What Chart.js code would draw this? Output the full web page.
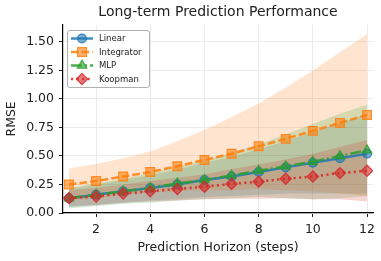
<!DOCTYPE html>
<html><head><meta charset="utf-8">
<script src="https://cdn.jsdelivr.net/npm/chart.js@4/dist/chart.umd.min.js"></script>
<style>html,body{margin:0;padding:0;background:#fff;}#wrap{width:381px;height:261px;}</style>
</head><body><div id="wrap"><canvas id="c" width="381" height="261"></canvas></div>
<script>
// ---- data ----
const steps = [1,2,3,4,5,6,7,8,9,10,11,12];
const linearMean = [0.13,0.16,0.19,0.22,0.25,0.29,0.32,0.36,0.40,0.44,0.48,0.52];
const linearStd  = [0.08,0.09,0.10,0.11,0.13,0.15,0.17,0.20,0.23,0.27,0.31,0.35];
const integratorMean = [0.25,0.28,0.32,0.36,0.41,0.465,0.52,0.585,0.65,0.72,0.79,0.86];
const integratorStd  = [0.14,0.15,0.16,0.18,0.22,0.265,0.32,0.375,0.45,0.53,0.62,0.71];
const mlpMean = [0.13,0.16,0.19,0.22,0.26,0.29,0.33,0.37,0.41,0.45,0.50,0.55];
const mlpStd  = [0.09,0.10,0.11,0.13,0.15,0.17,0.20,0.23,0.28,0.33,0.37,0.40];
const koopmanMean = [0.13,0.145,0.17,0.19,0.21,0.23,0.255,0.275,0.30,0.32,0.35,0.37];
const koopmanStd  = [0.07,0.075,0.08,0.09,0.10,0.11,0.13,0.15,0.17,0.20,0.23,0.27];
const xTicks = [2,4,6,8,10,12];
const yTicks = [0,0.25,0.5,0.75,1.0,1.25,1.5];
const seriesNames = ['Linear','Integrator','MLP','Koopman'];

// ---- styles ----
const FONT = "'DejaVu Sans', sans-serif";
const rgb = {Linear:[31,119,180], Integrator:[255,127,14], MLP:[44,160,44], Koopman:[214,39,40]};
const rgba = (n,a)=>`rgba(${rgb[n][0]},${rgb[n][1]},${rgb[n][2]},${a})`;
const styles = {
  Linear:{dash:[], point:'circle', r:4.4},
  Integrator:{dash:[7.5,3.2], point:'rect', r:6.2},
  MLP:{dash:[11,3,2,3], point:'triangle', r:5.4},
  Koopman:{dash:[2.2,3.3], point:'rectRot', r:5.6}
};
const means = {Linear:linearMean, Integrator:integratorMean, MLP:mlpMean, Koopman:koopmanMean};
const stds = {Linear:linearStd, Integrator:integratorStd, MLP:mlpStd, Koopman:koopmanStd};

const pts = arr => steps.map((s,i)=>({x:s, y:arr[i]}));
const datasets = [];
[...seriesNames].reverse().forEach(n=>{
  datasets.push({
    label:n, data:pts(means[n]),
    borderColor:rgba(n,0.85), backgroundColor:rgba(n,0.6),
    borderWidth:2.5, borderDash:styles[n].dash,
    pointStyle:styles[n].point, pointRadius:styles[n].r,
    pointBorderColor:rgba(n,0.85), pointBackgroundColor:rgba(n,0.6), pointBorderWidth:1.2,
    fill:false, tension:0
  });
});
[...seriesNames].reverse().forEach(n=>{
  const up = means[n].map((m,i)=>m+stds[n][i]);
  const lo = means[n].map((m,i)=>m-stds[n][i]);
  datasets.push({label:n+' band', data:pts(up), borderWidth:0, pointRadius:0,
    backgroundColor:rgba(n,0.2), borderColor:'rgba(0,0,0,0)', fill:'+1', tension:0});
  datasets.push({label:n+' band lo', data:pts(lo), borderWidth:0, pointRadius:0,
    borderColor:'rgba(0,0,0,0)', fill:false, tension:0});
});

function marker(ctx, style, x, y, r){
  ctx.beginPath();
  if(style==='circle'){ ctx.arc(x,y,r,0,Math.PI*2); }
  else if(style==='rect'){ const s=r*Math.SQRT1_2; ctx.rect(x-s,y-s,2*s,2*s); }
  else if(style==='triangle'){
    const w=r*Math.sqrt(3);
    ctx.moveTo(x, y-r); ctx.lineTo(x+w/2, y+r/2); ctx.lineTo(x-w/2, y+r/2); ctx.closePath();
  } else if(style==='rectRot'){ ctx.moveTo(x,y-r); ctx.lineTo(x+r,y); ctx.lineTo(x,y+r); ctx.lineTo(x-r,y); ctx.closePath(); }
  ctx.fill(); ctx.stroke();
}

const titleCenter = {
  id:'titleCenter',
  afterLayout(chart){
    if(chart.titleBlock){ chart.titleBlock.left = chart.chartArea.left; chart.titleBlock.right = chart.chartArea.right; }
  }
};

const legendPlugin = {
  id:'mplLegend',
  afterDraw(chart){
    const ctx = chart.ctx;
    const bx=67, by=30, bw=82, bh=57;
    ctx.save();
    ctx.beginPath();
    ctx.roundRect(bx+0.5,by+0.5,bw,bh,2.5);
    ctx.fillStyle='rgba(255,255,255,0.85)'; ctx.fill();
    ctx.strokeStyle='#b0b0b0'; ctx.lineWidth=1; ctx.stroke();
    seriesNames.forEach((n,i)=>{
      const y = by + 8.5 + i*13.5;
      ctx.beginPath();
      ctx.setLineDash(styles[n].dash);
      ctx.strokeStyle=rgba(n,0.85); ctx.lineWidth=2.5;
      ctx.moveTo(71,y); ctx.lineTo(93,y); ctx.stroke();
      ctx.setLineDash([]);
      ctx.fillStyle=rgba(n,0.6); ctx.strokeStyle=rgba(n,0.85); ctx.lineWidth=1.2;
      marker(ctx, styles[n].point, 82, y, styles[n].r);
      ctx.fillStyle='#222'; ctx.font=`8.5px ${FONT}`; ctx.textBaseline='middle'; ctx.textAlign='left';
      ctx.fillText(n, 99, y+0.5);
    });
    ctx.restore();
  }
};

new Chart(document.getElementById('c'), {
  type:'line',
  data:{datasets},
  plugins:[titleCenter, legendPlugin],
  options:{
    responsive:false, animation:false, devicePixelRatio:1,
    layout:{padding:{left:0,right:8,top:0,bottom:0}},
    plugins:{
      legend:{display:false}, tooltip:{enabled:false},
      filler:{drawTime:'beforeDatasetsDraw'},
      title:{display:true, text:'Long-term Prediction Performance', color:'#222',
        font:{family:FONT, size:14, weight:'normal'}, padding:{top:4,bottom:4}}
    },
    scales:{
      x:{type:'linear', min:0.78, max:12.22,
        afterBuildTicks(s){ s.ticks = xTicks.map(v=>({value:v})); },
        afterFit(s){ s.height = 48; },
        ticks:{color:'#222', font:{family:FONT,size:12.5}, padding:5, maxRotation:0, autoSkip:false},
        grid:{color:'#ebebeb', lineWidth:1, tickColor:'#222', tickLength:4, drawTicks:true},
        border:{color:'#000', width:1.2},
        title:{display:true, text:'Prediction Horizon (steps)', color:'#222',
          font:{family:FONT,size:12.5}, padding:{top:0,bottom:6}}
      },
      y:{type:'linear', min:0, max:1.65,
        afterBuildTicks(s){ s.ticks = yTicks.map(v=>({value:v})); },
        afterFit(s){ s.width = 63; },
        ticks:{color:'#222', font:{family:FONT,size:12.5}, padding:5, callback:v=>v.toFixed(2), autoSkip:false},
        grid:{color:'#ebebeb', lineWidth:1, tickColor:'#222', tickLength:4, drawTicks:true},
        border:{color:'#000', width:1.2},
        title:{display:true, text:'RMSE', color:'#222',
          font:{family:FONT,size:12.5}, padding:{top:4,bottom:0}}
      }
    }
  }
});
</script></body></html>
